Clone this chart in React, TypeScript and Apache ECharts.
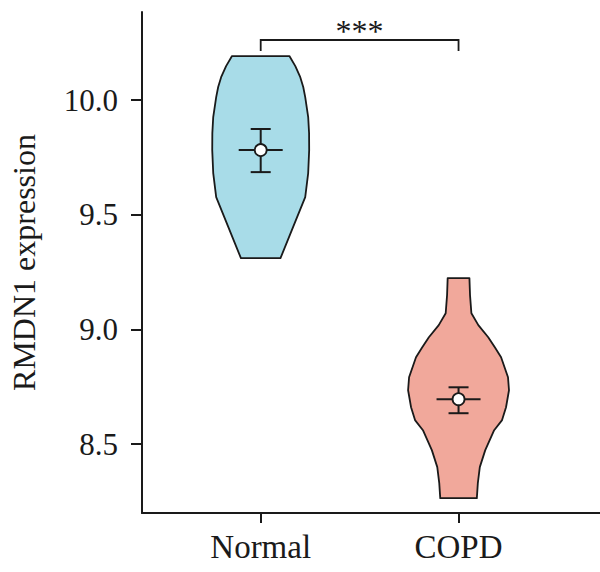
import React, { useEffect, useRef } from "react";
import * as echarts from "echarts";

// Groups along the x axis
const groups = ["Normal", "COPD"];
const groupPos = [1, 2];
const violinFills = ["#A8DCE8", "#F1A89B"];

// Kernel density outline: expression level and half-width of the violin
const normalLevels = [10.192, 10.148, 10.1, 10.057, 10.013, 9.926, 9.856, 9.782, 9.682, 9.577, 9.446, 9.311];
const normalHalfWidth = [0.145, 0.175, 0.2, 0.215, 0.225, 0.24, 0.2445, 0.245, 0.24, 0.225, 0.1635, 0.1];

const copdLevels = [9.224, 9.15, 9.071, 9.019, 8.966, 8.92, 8.879, 8.792, 8.735, 8.661, 8.605, 8.561, 8.474, 8.4, 8.33, 8.265];
const copdHalfWidth = [0.055, 0.058, 0.065, 0.1, 0.15, 0.185, 0.215, 0.25, 0.255, 0.24, 0.22, 0.18, 0.135, 0.1075, 0.0975, 0.0925];

// Mean with lower / upper bounds of the error bar
const means = [9.782, 8.696];
const lowers = [9.686, 8.635];
const uppers = [9.874, 8.748];

// Significance annotation
const sigLabel = "***";
const sigLevel = 10.262;
const sigDrop = 10.214;

const yTicks = [8.5, 9.0, 9.5, 10.0];

const FONT = "'Liberation Serif', 'Times New Roman', serif";
const INK = "#1a1a1a";

export default function App() {
  const ref = useRef<HTMLDivElement>(null);

  useEffect(() => {
    if (!ref.current) return;
    const chart = echarts.init(ref.current, null, { renderer: "svg" });

    const profiles = [
      { levels: normalLevels, hw: normalHalfWidth },
      { levels: copdLevels, hw: copdHalfWidth },
    ];

    const option: any = {
      animation: false,
      backgroundColor: "#ffffff",
      grid: { left: 137, right: 0, top: 12, bottom: 59, containLabel: false },
      xAxis: {
        type: "value",
        min: 0.4,
        max: 2.715,
        splitLine: { show: false },
        axisLine: { show: true, lineStyle: { color: INK, width: 2 } },
        axisTick: {
          show: true,
          customValues: groupPos,
          length: 10,
          lineStyle: { color: INK, width: 2 },
        },
        axisLabel: {
          customValues: groupPos,
          formatter: (v: number) => groups[groupPos.indexOf(Math.round(v))] ?? "",
          fontFamily: FONT,
          fontSize: 33,
          color: INK,
          margin: 17,
        },
      },
      yAxis: {
        type: "value",
        min: 8.2,
        max: 10.384,
        name: "RMDN1 expression",
        nameLocation: "middle",
        nameRotate: 90,
        nameGap: 102,
        nameTextStyle: { fontFamily: FONT, fontSize: 32, color: INK },
        splitLine: { show: false },
        axisLine: { show: true, lineStyle: { color: INK, width: 2 } },
        axisTick: {
          show: true,
          customValues: yTicks,
          length: 11,
          lineStyle: { color: INK, width: 2 },
        },
        axisLabel: {
          customValues: yTicks,
          formatter: (v: number) => v.toFixed(1),
          fontFamily: FONT,
          fontSize: 31,
          color: INK,
          margin: 24,
        },
      },
      series: [
        {
          type: "custom",
          name: "violin",
          data: groupPos.map((p, i) => [p, i]),
          renderItem: (params: any, api: any) => {
            const i = params.dataIndex;
            const pos = groupPos[i];
            const prof = profiles[i];
            const pts: number[][] = [];
            for (let k = 0; k < prof.levels.length; k++) {
              pts.push(api.coord([pos + prof.hw[k], prof.levels[k]]));
            }
            for (let k = prof.levels.length - 1; k >= 0; k--) {
              pts.push(api.coord([pos - prof.hw[k], prof.levels[k]]));
            }
            return {
              type: "polygon",
              shape: { points: pts },
              style: { fill: violinFills[i], stroke: INK, lineWidth: 1.8, lineJoin: "round" },
            };
          },
          z: 2,
        },
        {
          type: "custom",
          name: "mean",
          data: groupPos.map((p, i) => [p, means[i], lowers[i], uppers[i]]),
          renderItem: (params: any, api: any) => {
            const x = api.value(0);
            const c = api.coord([x, api.value(1)]);
            const lo = api.coord([x, api.value(2)]);
            const hi = api.coord([x, api.value(3)]);
            const ls = { stroke: INK, lineWidth: 2 };
            return {
              type: "group",
              children: [
                { type: "line", shape: { x1: c[0], y1: lo[1], x2: c[0], y2: hi[1] }, style: ls },
                { type: "line", shape: { x1: c[0] - 10, y1: lo[1], x2: c[0] + 10, y2: lo[1] }, style: ls },
                { type: "line", shape: { x1: c[0] - 10, y1: hi[1], x2: c[0] + 10, y2: hi[1] }, style: ls },
                { type: "line", shape: { x1: c[0] - 22, y1: c[1], x2: c[0] + 22, y2: c[1] }, style: ls },
                {
                  type: "circle",
                  shape: { cx: c[0], cy: c[1], r: 6 },
                  style: { fill: "#ffffff", stroke: INK, lineWidth: 1.8 },
                },
              ],
            };
          },
          z: 3,
        },
        {
          type: "custom",
          name: "significance",
          data: [[groupPos[0], groupPos[1], sigLevel, sigDrop]],
          renderItem: (params: any, api: any) => {
            const a = api.coord([api.value(0), api.value(2)]);
            const b = api.coord([api.value(1), api.value(2)]);
            const d = api.coord([api.value(0), api.value(3)]);
            return {
              type: "group",
              children: [
                {
                  type: "polyline",
                  shape: { points: [[a[0], d[1]], a, b, [b[0], d[1]]] },
                  style: { stroke: INK, lineWidth: 1.8, fill: "none" },
                },
                {
                  type: "text",
                  style: {
                    text: sigLabel,
                    x: (a[0] + b[0]) / 2,
                    y: a[1] - 9,
                    align: "center",
                    verticalAlign: "middle",
                    font: `32px ${FONT}`,
                    fill: INK,
                  },
                },
              ],
            };
          },
          z: 3,
        },
      ],
    };

    chart.setOption(option);
    return () => chart.dispose();
  }, []);

  return (
    <div
      ref={ref}
      style={{ position: "absolute", left: 0, top: 0, width: 600, height: 572, background: "#fff" }}
    />
  );
}
